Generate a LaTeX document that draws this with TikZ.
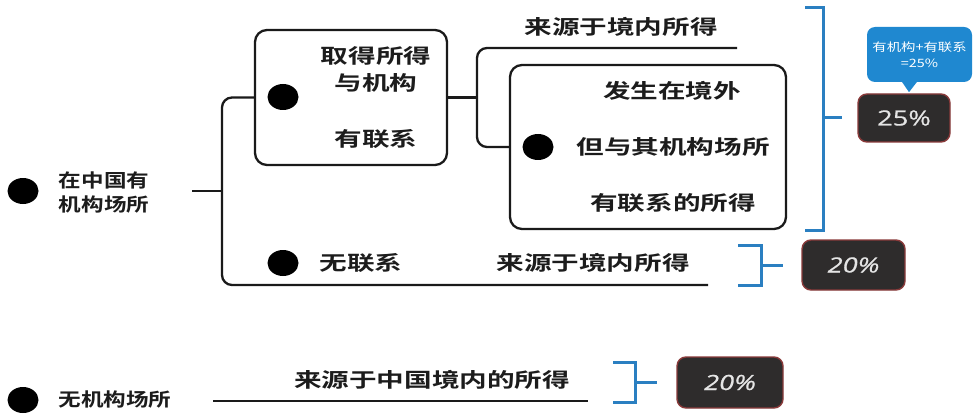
\documentclass[tikz,border=0pt]{standalone}
\usepackage{fontspec}
\usetikzlibrary{shapes.geometric}
\newfontfamily\cjkbig{Noto Sans CJK SC Bold}[FakeStretch=1.38]
\newfontfamily\cjksmall{Noto Sans CJK SC Bold}[FakeStretch=1.22]
\newfontfamily\cjktiny{Noto Sans CJK SC}[FakeStretch=1.25]
\newfontfamily\pctfont{Open Sans}[FakeStretch=1.3,FakeBold=0.6]
\definecolor{linec}{HTML}{1A1A1A}
\definecolor{txtc}{HTML}{1C1C1C}
\definecolor{bluec}{HTML}{2A7FC1}
\definecolor{calloutc}{HTML}{1F88D0}
\definecolor{pctfill}{HTML}{2E2C2C}
\definecolor{pctborder}{HTML}{8A3A3A}
\tikzset{
  conn/.style={draw=linec, line width=2.3pt, rounded corners=10pt},
  plain/.style={draw=linec, line width=2.3pt},
  bullet/.style={ellipse, fill=black, minimum width=31pt, minimum height=26pt, inner sep=0pt},
  bigtxt/.style={font=\cjkbig\fontsize{20}{27}\selectfont, text=txtc, inner sep=0pt, align=center},
  smalltxt/.style={font=\cjksmall\fontsize{18.5}{24}\selectfont, text=txtc, inner sep=0pt, align=left},
  boxnode/.style={draw=linec, line width=2.3pt, rounded corners=12pt, inner sep=0pt},
  brk/.style={draw=bluec, line width=3pt},
  pct/.style={rectangle, rounded corners=9pt, fill=pctfill, draw=pctborder, line width=1.4pt,
              text=white!90!black, font=\pctfont\fontsize{21}{24}\selectfont, inner sep=0pt},
  callout/.style={rectangle, rounded corners=8pt, fill=calloutc, text=white,
              font=\cjktiny\fontsize{11.5}{16}\selectfont, align=center, inner sep=0pt}
}
\begin{document}
\begin{tikzpicture}[x=1pt, y=-1pt]
\useasboundingbox (0,0) rectangle (973,414);
\fill[white] (0,0) rectangle (973,414);

% ---- top branch: has establishment
\node[bullet] (d1) at (23,191) {};
\node[smalltxt] (l1) at (104,193) {在中国有\\机构场所};
\coordinate (a1) at (192,191);
\coordinate (v1) at (222,191);
\coordinate (r2e) at (708,285);

\node[boxnode, minimum width=192pt, minimum height=135pt] (b1) at (351,97.5) {};
\node[bullet] (d2) at (283,97) {};
\node[bigtxt] (b1t1) at (376,56) {取得所得};
\node[bigtxt] (b1t2) at (376,83) {与机构};
\node[bigtxt] (b1t3) at (376,139) {有联系};

\draw[plain] (a1) -- (v1);
\draw[conn] (b1.west) -| (v1) |- (r2e);

\coordinate (v2) at (477,97.5);
\coordinate (t1e) at (737,48);
\node[boxnode, minimum width=276pt, minimum height=164pt] (b2) at (648,147) {};
\node[bullet] (d3) at (538,147) {};
\node[bigtxt] (b2t1) at (672,91) {发生在境外};
\node[bigtxt] (b2t2) at (673,147) {但与其机构场所};
\node[bigtxt] (b2t3) at (673,203) {有联系的所得};
\node[bigtxt] (t1) at (621,27) {来源于境内所得};

\draw[plain] (b1.east) -- (v2);
\draw[conn] (t1e) -| (v2) |- (b2.west);

% ---- no connection row
\node[bullet] (d4) at (283,263) {};
\node[bigtxt] (t2) at (361,263) {无联系};
\node[bigtxt] (t3) at (593,263) {来源于境内所得};

% ---- no establishment
\node[bullet] (d5) at (23,400) {};
\node[smalltxt] (l2) at (115,400) {无机构场所};
\node[bigtxt] (t4) at (432,380) {来源于中国境内的所得};
\coordinate (n1) at (213,401);
\coordinate (n2) at (588,401);
\draw[plain] (n1) -- (n2);

% ---- blue brackets
\coordinate (k1a) at (805,8);
\coordinate (k1m) at (823,118);
\coordinate (k1b) at (805,230);
\coordinate (k1t) at (842,118);
\draw[brk] (k1a) -| (k1m) |- (k1b);
\draw[brk] (k1m) -- (k1t);

\coordinate (k2a) at (738,245);
\coordinate (k2m) at (761,265);
\coordinate (k2b) at (738,285);
\coordinate (k2t) at (783,265);
\draw[brk] (k2a) -| (k2m) |- (k2b);
\draw[brk] (k2m) -- (k2t);

\coordinate (k3a) at (613,362);
\coordinate (k3m) at (635,382);
\coordinate (k3b) at (613,402);
\coordinate (k3t) at (657,382);
\draw[brk] (k3a) -| (k3m) |- (k3b);
\draw[brk] (k3m) -- (k3t);

% ---- rate boxes
\node[pct, minimum width=92pt, minimum height=48pt] (p1) at (904,118) {25\%};
\node[pct, minimum width=103pt, minimum height=50pt] (p2) at (853.5,265) {\itshape 20\%};
\node[pct, minimum width=106pt, minimum height=51pt] (p3) at (730,382.5) {\itshape 20\%};

% ---- callout
\node[callout, minimum width=105pt, minimum height=55pt] (co) at (919.5,54.5) {有机构+有联系\\=25\%};
\fill[calloutc] ([xshift=-18pt,yshift=1pt]co.south) -- ([xshift=-10.5pt,yshift=-10pt]co.south) -- ([xshift=-2pt,yshift=1pt]co.south) -- cycle;
\end{tikzpicture}
\end{document}
